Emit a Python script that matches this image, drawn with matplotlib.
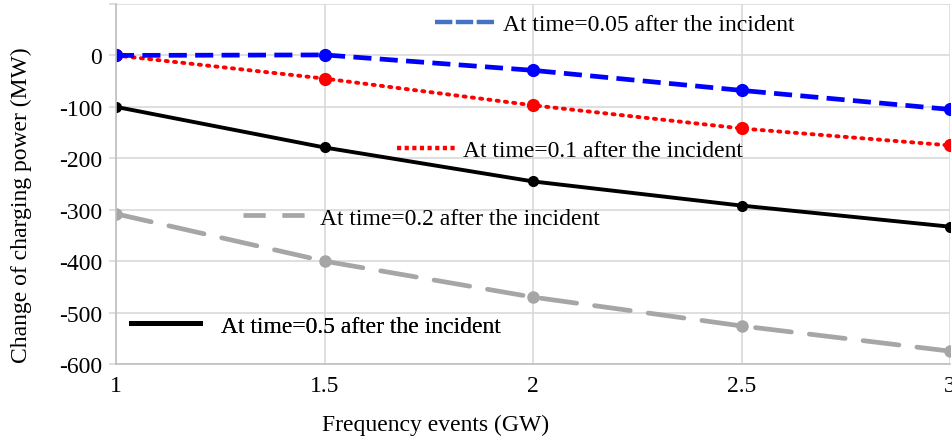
import matplotlib
matplotlib.use("Agg")
import matplotlib.pyplot as plt
from matplotlib.lines import Line2D

# data
freq_events = [1, 1.5, 2, 2.5, 3]
p_t005 = [0, 1, -29, -68, -105]
p_t01 = [0, -45, -97, -142, -175]
p_t02 = [-308, -400, -470, -526, -575]
p_t05 = [-100, -179, -245, -292, -333]
x_ticks = [1, 1.5, 2, 2.5, 3]
y_ticks = [-600, -500, -400, -300, -200, -100, 0, 100]
y_ticklabels = ["-600", "-500", "-400", "-300", "-200", "-100", "0", ""]

plt.rcParams['font.family'] = ['Liberation Serif', 'DejaVu Serif']
plt.rcParams['lines.scale_dashes'] = False
fs = 17

fig = plt.figure(figsize=(9.52, 4.39), dpi=100)
ax = fig.add_axes([116/952, 1 - 365/439, 834/952, 360/439])

grid_c = "#d9d9d9"
ax.plot(freq_events, p_t02, color="#a6a6a6", lw=3.4, dashes=(26, 13),
        marker="o", ms=8, dash_capstyle="round")
ax.plot(freq_events, p_t05, color="black", lw=2.8, marker="o", ms=7)
ax.plot(freq_events, p_t01, color="#ff0000", lw=2.8, dashes=(1.5, 4.5),
        dash_capstyle="round", marker="o", ms=8.5)
ax.plot(freq_events, p_t005, color="#0000ff", lw=3.4, dashes=(13, 6),
        marker="o", ms=8.5)

ax.set_xlim(1, 3)
ax.set_ylim(-600, 100)
ax.set_xticks(x_ticks)
ax.set_xticklabels(["1", "1.5", "2", "2.5", "3"])
ax.set_yticks(y_ticks)
ax.set_yticklabels(y_ticklabels)
ax.grid(True, color=grid_c, lw=1.2)
ax.set_axisbelow(True)
for side in ["top", "right"]:
    ax.spines[side].set_visible(False)
for side in ["left", "bottom"]:
    ax.spines[side].set_color("#bfbfbf")
    ax.spines[side].set_linewidth(1.2)
ax.tick_params(axis="y", length=5, color=grid_c, width=1.2, labelsize=fs, pad=5)
ax.tick_params(axis="x", length=0, labelsize=fs, pad=8)

# axis titles sit off-centre in the reference
fig.text(436/952, 1 - 425/439, "Frequency events (GW)", fontsize=fs,
         ha="center", va="center")
fig.text(21/952, 1 - 205/439, "Change of charging power (MW)", fontsize=fs,
         ha="center", va="center", rotation=90)

# separate legend entries, placed like the reference
entries = [
    (Line2D([], [], color="#4472c4", lw=3.2, dashes=(12.5, 2.5)),
     "At time=0.05 after the incident", (0.382, 0.944), 2.54, 0.34),
    (Line2D([], [], color="#ff0000", lw=3.2, dashes=(3, 2.5)),
     "At time=0.1 after the incident", (0.337, 0.594), 2.46, 0.34),
    (Line2D([], [], color="#a6a6a6", lw=3.4, dashes=(16, 12)),
     "At time=0.2 after the incident", (0.152, 0.406), 2.63, 0.64),
    (Line2D([], [], color="black", lw=3.6),
     "At time=0.5 after the incident", (0.018, 0.106), 2.92, 0.89),
]
for handle, label, anchor, hlen, hpad in entries:
    leg = ax.legend([handle], [label], loc="center left", bbox_to_anchor=anchor,
                    frameon=False, fontsize=fs, borderpad=0, borderaxespad=0,
                    handlelength=hlen, handletextpad=hpad)
    ax.add_artist(leg)

fig.savefig("out.png", dpi=100)
